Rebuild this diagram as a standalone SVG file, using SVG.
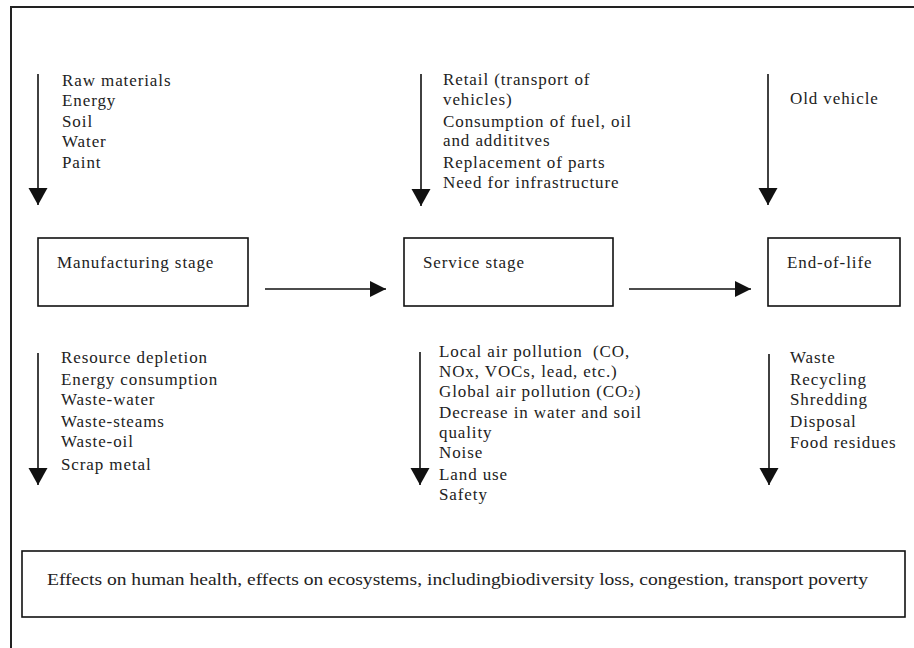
<svg xmlns="http://www.w3.org/2000/svg" width="914" height="648" viewBox="0 0 914 648">
<style>
text{font-family:"Liberation Serif","Times New Roman",serif;font-size:17px;fill:#222;letter-spacing:0.9px}
.box{fill:#fff;stroke:#111;stroke-width:1.6}
.ln{stroke:#111;stroke-width:1.6;fill:none}
</style>
<defs>
<marker id="ah" markerWidth="20" markerHeight="20" refX="16" refY="8" orient="auto" markerUnits="userSpaceOnUse">
<path d="M0,0 L16,8 L0,16 Z" fill="#111"/>
</marker>
<marker id="av" markerWidth="20" markerHeight="20" refX="17" refY="9.5" orient="auto" markerUnits="userSpaceOnUse">
<path d="M0,0 L17,9.5 L0,19 Z" fill="#111"/>
</marker>
</defs>
<rect width="914" height="648" fill="#fff"/>
<g id="frame">
<path d="M11,648 V7 H914" fill="none" stroke="#222" stroke-width="2"/>
</g>
<g id="connectors">
<line class="ln" x1="38" y1="74" x2="38" y2="205" marker-end="url(#av)"/>
<line class="ln" x1="421" y1="74" x2="421" y2="206" marker-end="url(#av)"/>
<line class="ln" x1="768" y1="74" x2="768" y2="205" marker-end="url(#av)"/>
<line class="ln" x1="265" y1="289" x2="386" y2="289" marker-end="url(#ah)"/>
<line class="ln" x1="629" y1="289" x2="751" y2="289" marker-end="url(#ah)"/>
<line class="ln" x1="38" y1="353" x2="38" y2="485" marker-end="url(#av)"/>
<line class="ln" x1="420" y1="352" x2="420" y2="485" marker-end="url(#av)"/>
<line class="ln" x1="769" y1="354" x2="769" y2="485" marker-end="url(#av)"/>
</g>
<g id="inputs-manufacturing">
<text x="62" y="86">Raw materials</text>
<text x="62" y="106">Energy</text>
<text x="62" y="127">Soil</text>
<text x="62" y="147">Water</text>
<text x="62" y="168">Paint</text>
</g>
<g id="inputs-service">
<text x="443" y="85">Retail (transport of</text>
<text x="443" y="105">vehicles)</text>
<text x="443" y="127">Consumption of fuel, oil</text>
<text x="443" y="146">and addititves</text>
<text x="443" y="168">Replacement of parts</text>
<text x="443" y="188">Need for infrastructure</text>
</g>
<g id="inputs-eol">
<text x="790" y="104">Old vehicle</text>
</g>
<g id="manufacturing">
<rect class="box" x="38" y="238" width="210" height="68"/>
<text x="57" y="268">Manufacturing stage</text>
</g>
<g id="service">
<rect class="box" x="404" y="238" width="209" height="68"/>
<text x="423" y="268">Service stage</text>
</g>
<g id="end-of-life">
<rect class="box" x="768" y="238" width="132" height="68"/>
<text x="787" y="268">End-of-life</text>
</g>
<g id="outputs-manufacturing">
<text x="61" y="363">Resource depletion</text>
<text x="61" y="385">Energy consumption</text>
<text x="61" y="405">Waste-water</text>
<text x="61" y="427">Waste-steams</text>
<text x="61" y="447">Waste-oil</text>
<text x="61" y="470">Scrap metal</text>
</g>
<g id="outputs-service">
<text x="439" y="357" style="white-space:pre">Local air pollution  (CO,</text>
<text x="439" y="377">NOx, VOCs, lead, etc.)</text>
<text x="439" y="397">Global air pollution (CO<tspan font-size="11">2</tspan>)</text>
<text x="439" y="418">Decrease in water and soil</text>
<text x="439" y="438">quality</text>
<text x="439" y="458">Noise</text>
<text x="439" y="480">Land use</text>
<text x="439" y="500">Safety</text>
</g>
<g id="outputs-eol">
<text x="790" y="363">Waste</text>
<text x="790" y="385">Recycling</text>
<text x="790" y="405">Shredding</text>
<text x="790" y="427">Disposal</text>
<text x="790" y="448">Food residues</text>
</g>
<g id="effects">
<rect class="box" x="22" y="551" width="883" height="66"/>
<text x="47" y="585" textLength="821" lengthAdjust="spacingAndGlyphs" style="letter-spacing:0">Effects on human health, effects on ecosystems, includingbiodiversity loss, congestion, transport poverty</text>
</g>
</svg>
